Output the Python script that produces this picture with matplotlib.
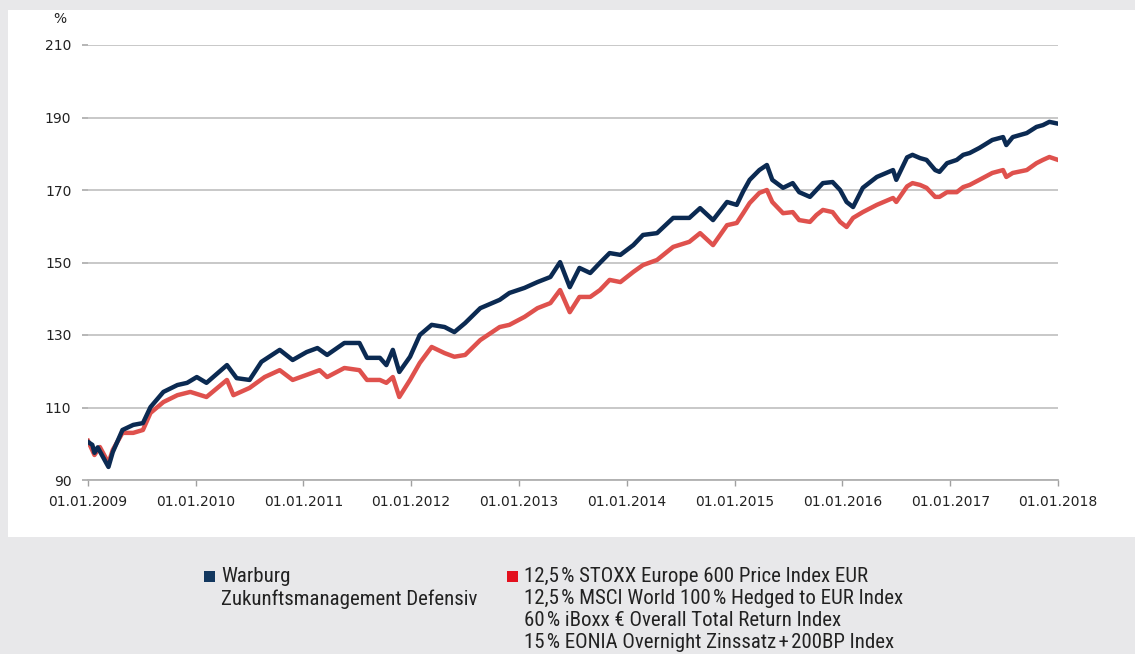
import matplotlib
matplotlib.use("Agg")
import matplotlib.pyplot as plt
from matplotlib.patches import Rectangle
import pandas as pd

# ---------------- data ----------------
fund_t = [2009.00, 2009.04, 2009.06, 2009.09, 2009.19, 2009.23, 2009.32, 2009.42, 2009.51, 2009.58,
          2009.70, 2009.83, 2009.92, 2010.01, 2010.10, 2010.29, 2010.38, 2010.50, 2010.61, 2010.78,
          2010.90, 2011.03, 2011.13, 2011.22, 2011.38, 2011.52, 2011.59, 2011.71, 2011.77, 2011.83,
          2011.89, 2011.99, 2012.08, 2012.19, 2012.31, 2012.40, 2012.50, 2012.64, 2012.82, 2012.91,
          2013.05, 2013.17, 2013.29, 2013.38, 2013.47, 2013.56, 2013.66, 2013.75, 2013.84, 2013.94,
          2014.06, 2014.15, 2014.28, 2014.43, 2014.58, 2014.68, 2014.80, 2014.93, 2015.02, 2015.08,
          2015.14, 2015.23, 2015.30, 2015.35, 2015.45, 2015.54, 2015.60, 2015.70, 2015.76, 2015.82,
          2015.91, 2015.98, 2016.04, 2016.10, 2016.19, 2016.32, 2016.47, 2016.50, 2016.60, 2016.65,
          2016.72, 2016.78, 2016.86, 2016.90, 2016.97, 2017.06, 2017.12, 2017.18, 2017.27, 2017.39,
          2017.49, 2017.52, 2017.58, 2017.71, 2017.80, 2017.86, 2017.92, 2018.00]
fund_v = [100.5, 99.7, 97.5, 99.0, 93.6, 97.7, 103.8, 105.2, 105.7, 110.1,
          114.3, 116.2, 116.8, 118.4, 116.8, 121.7, 118.1, 117.6, 122.6, 125.9,
          123.1, 125.3, 126.4, 124.5, 127.8, 127.8, 123.7, 123.7, 121.7, 125.9,
          119.8, 124.0, 130.0, 132.8, 132.2, 130.8, 133.3, 137.4, 139.7, 141.6,
          143.0, 144.6, 146.0, 150.1, 143.2, 148.5, 147.1, 149.9, 152.6, 152.1,
          154.8, 157.6, 158.1, 162.3, 162.3, 165.0, 161.7, 166.7, 165.9, 169.6,
          172.8, 175.5, 176.9, 172.8, 170.6, 171.9, 169.4, 168.1, 170.0, 171.9,
          172.2, 170.0, 166.7, 165.3, 170.6, 173.6, 175.5, 172.8, 179.0, 179.7,
          178.8, 178.3, 175.5, 175.0, 177.4, 178.3, 179.7, 180.2, 181.6, 183.8,
          184.6, 182.4, 184.6, 185.7, 187.4, 187.9, 188.8, 188.3]

bench_t = [2009.00, 2009.06, 2009.11, 2009.19, 2009.23, 2009.32, 2009.42, 2009.51, 2009.58, 2009.70,
           2009.83, 2009.95, 2010.10, 2010.29, 2010.35, 2010.50, 2010.64, 2010.78, 2010.90, 2011.03,
           2011.15, 2011.22, 2011.38, 2011.52, 2011.59, 2011.71, 2011.77, 2011.83, 2011.89, 2011.99,
           2012.08, 2012.19, 2012.31, 2012.40, 2012.50, 2012.64, 2012.82, 2012.91, 2013.05, 2013.17,
           2013.29, 2013.38, 2013.47, 2013.56, 2013.66, 2013.75, 2013.84, 2013.94, 2014.06, 2014.15,
           2014.28, 2014.43, 2014.58, 2014.68, 2014.80, 2014.93, 2015.02, 2015.08, 2015.14, 2015.23,
           2015.30, 2015.35, 2015.45, 2015.54, 2015.60, 2015.70, 2015.76, 2015.82, 2015.91, 2015.98,
           2016.04, 2016.10, 2016.19, 2016.32, 2016.47, 2016.50, 2016.60, 2016.65, 2016.72, 2016.78,
           2016.86, 2016.90, 2016.97, 2017.06, 2017.12, 2017.18, 2017.27, 2017.39, 2017.49, 2017.52,
           2017.58, 2017.71, 2017.80, 2017.86, 2017.92, 2018.00]
bench_v = [100.8, 96.9, 99.1, 94.7, 98.3, 103.0, 103.0, 103.8, 108.5, 111.5,
           113.4, 114.3, 112.9, 117.6, 113.4, 115.4, 118.4, 120.3, 117.6, 119.0,
           120.3, 118.4, 120.9, 120.3, 117.6, 117.6, 116.8, 118.4, 112.9, 117.6,
           122.3, 126.7, 125.0, 124.0, 124.5, 128.6, 132.2, 132.8, 135.0, 137.4,
           138.8, 142.4, 136.3, 140.5, 140.5, 142.4, 145.2, 144.6, 147.4, 149.3,
           150.7, 154.3, 155.7, 158.1, 154.8, 160.3, 160.9, 163.6, 166.4, 169.2,
           170.0, 166.7, 163.6, 163.9, 161.7, 161.2, 163.1, 164.5, 163.9, 161.2,
           159.8, 162.3, 163.9, 165.9, 167.8, 166.7, 171.0, 171.9, 171.4, 170.6,
           168.1, 168.1, 169.4, 169.4, 170.8, 171.4, 172.8, 174.7, 175.5, 173.6,
           174.7, 175.5, 177.4, 178.3, 179.1, 178.3]

tick_years = list(range(2009, 2019))
y_ticks = [90, 110, 130, 150, 170, 190, 210]

fund_label = "Warburg\nZukunftsmanagement Defensiv"
bench_label = ("12,5\u200a% STOXX Europe 600 Price Index EUR\n"
               "12,5\u200a% MSCI World 100\u200a% Hedged to EUR Index\n"
               "60\u200a% iBoxx \u20ac Overall Total Return Index\n"
               "15\u200a% EONIA Overnight Zinssatz\u200a+\u200a200BP Index")

NAVY = "#0b2a52"
RED = "#df514d"
RED_KEY = "#e3101e"
NAVY_KEY = "#12375f"
GRID = "#c4c4c4"
TXT = "#222222"


def to_dates(years):
    out = []
    for y in years:
        base = pd.Timestamp(int(y), 1, 1)
        nxt = pd.Timestamp(int(y) + 1, 1, 1)
        out.append(base + (nxt - base) * (y - int(y)))
    return out


W, H = 1135, 654
fig = plt.figure(figsize=(W / 100, H / 100), dpi=100, facecolor="#e8e8ea")
fig.patches.append(Rectangle((8 / W, 1 - 537 / H), 1 - 8 / W, (537 - 10) / H,
                             transform=fig.transFigure, facecolor="white",
                             edgecolor="none", zorder=-10))

ax = fig.add_axes([88 / W, 1 - 480 / H, (1058 - 88) / W, (480 - 45) / H], zorder=5)
ax.set_facecolor("none")

ax.plot(to_dates(bench_t), bench_v, color=RED, lw=3.2, solid_joinstyle="round", zorder=3)
ax.plot(to_dates(fund_t), fund_v, color=NAVY, lw=3.2, solid_joinstyle="round", zorder=4)

ax.set_ylim(90, 210)
ax.set_xlim(pd.Timestamp(2009, 1, 1), pd.Timestamp(2018, 1, 1))
ax.set_yticks(y_ticks)
ax.set_yticklabels([str(v) for v in y_ticks])
xt = [pd.Timestamp(y, 1, 1) for y in tick_years]
ax.set_xticks(xt)
ax.set_xticklabels([f"01.01.{y}" for y in tick_years])

ax.grid(axis="y", color=GRID, lw=1.3)
ax.set_axisbelow(True)
for s in ["top", "right", "left"]:
    ax.spines[s].set_visible(False)
ax.spines["bottom"].set_color("#b0b0b0")
ax.spines["bottom"].set_linewidth(1.3)
ax.tick_params(axis="y", length=4, width=1.3, color="#b0b0b0", pad=8,
               labelsize=10, labelcolor=TXT)
ax.tick_params(axis="x", length=4, width=1.0, color="#a0a0a0", pad=7,
               labelsize=10, labelcolor=TXT)

fig.text(60 / W, 1 - 19 / H, "%", fontsize=10, color=TXT, ha="center", va="center")

# legend
leg_font = ["Roboto Condensed", "Roboto", "DejaVu Sans"]
fig.patches.append(Rectangle((204 / W, 1 - 582 / H), 11 / W, 11 / H,
                             transform=fig.transFigure, facecolor=NAVY_KEY, edgecolor="none"))
fig.text(221 / W, 1 - 567 / H, fund_label, fontsize=15, family=leg_font, color=TXT,
         ha="left", va="top", linespacing=1.2)
fig.patches.append(Rectangle((507 / W, 1 - 582 / H), 11 / W, 11 / H,
                             transform=fig.transFigure, facecolor=RED_KEY, edgecolor="none"))
fig.text(524 / W, 1 - 567 / H, bench_label, fontsize=15, family=leg_font, color=TXT,
         ha="left", va="top", linespacing=1.2)

fig.savefig("out.png", dpi=100, facecolor=fig.get_facecolor())
